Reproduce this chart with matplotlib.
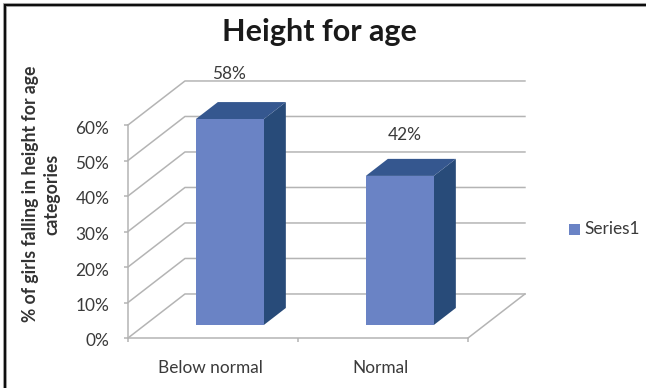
import matplotlib
matplotlib.use("Agg")
import matplotlib.pyplot as plt
from matplotlib.lines import Line2D
from matplotlib.patches import Polygon, Rectangle
from matplotlib.transforms import ScaledTranslation

plt.rcParams["font.family"] = ["Lato", "DejaVu Sans"]

categories = ["Below normal", "Normal"]
values = [58, 42]
value_labels = ["58%", "42%"]
y_ticks = [0, 10, 20, 30, 40, 50, 60]
y_tick_labels = ["0%", "10%", "20%", "30%", "40%", "50%", "60%"]
series_name = "Series1"
title = "Height for age"
y_label = "% of girls falling in height for age\ncategories"

W, H = 646, 388
FRONT = "#6a83c5"
TOP = "#35578f"
SIDE = "#284b79"
GRID = "#b4b4b4"
TEXT = "#3a3a3a"
FS = 12.4
LABEL_OFFSETS = [(-1, 45), (5, 41)]

# Oblique projection of the 3-D box: depth 0 is the front edge, 1 the back wall
DX = 0.335   # category units at full depth
DY = 12.4    # percentage points at full depth
BAR_W = 0.40
D0, D1 = 0.295, 0.682


def proj(x, y, d):
    return x + DX * d, y + DY * d


fig = plt.figure(figsize=(W / 100, H / 100), dpi=100, facecolor="white")
ax = fig.add_axes([128 / W, (H - 338) / H, 340 / W, 213 / H])
ax.set_xlim(0, len(categories))
ax.set_ylim(0, y_ticks[-1])
ax.patch.set_visible(False)
for name in ("top", "right"):
    ax.spines[name].set_visible(False)
for name in ("left", "bottom"):
    ax.spines[name].set_color(GRID)
    ax.spines[name].set_linewidth(1.1)

ax.set_yticks(y_ticks, y_tick_labels, fontsize=FS, color=TEXT)
ax.set_xticks(range(len(categories) + 1), [""] * (len(categories) + 1))
ax.set_xticks([i + 0.5 for i in range(len(categories))], categories, minor=True,
              fontsize=FS, color=TEXT)
ax.tick_params(axis="both", which="major", color=GRID, width=1.1, length=3)
ax.tick_params(axis="y", pad=10.5)
ax.tick_params(axis="x", which="minor", length=0, pad=16)

# Nudge the tick labels a little off their default anchors
nudge_y = ScaledTranslation(0, -2 / 100, fig.dpi_scale_trans)
for lab in ax.get_yticklabels():
    lab.set_transform(lab.get_transform() + nudge_y)
nudge_x = ScaledTranslation(-2.5 / 100, 0, fig.dpi_scale_trans)
for lab in ax.get_xticklabels(minor=True):
    lab.set_transform(lab.get_transform() + nudge_x)

# Walls: gridlines across the back plus their diagonals on the side wall
for v in y_ticks:
    ax.plot(*zip(proj(0, v, 0), proj(0, v, 1), proj(len(categories), v, 1)),
            color=GRID, lw=1.1, clip_on=False, zorder=1)
ax.plot(*zip(proj(len(categories), 0, 0), proj(len(categories), 0, 1)),
        color=GRID, lw=1.1, clip_on=False, zorder=1)

# Bars as three visible faces
for i, v in enumerate(values):
    x0 = i + 0.5 - BAR_W / 2
    x1 = x0 + BAR_W
    front = [proj(x0, 0, D0), proj(x1, 0, D0), proj(x1, v, D0), proj(x0, v, D0)]
    side = [proj(x1, 0, D0), proj(x1, 0, D1), proj(x1, v, D1), proj(x1, v, D0)]
    top = [proj(x0, v, D0), proj(x1, v, D0), proj(x1, v, D1), proj(x0, v, D1)]
    ax.add_patch(Polygon(side, fc=SIDE, ec="none", zorder=3, clip_on=False))
    ax.add_patch(Polygon(top, fc=TOP, ec="none", zorder=3, clip_on=False))
    ax.add_patch(Polygon(front, fc=FRONT, ec="none", zorder=4, clip_on=False))
    lx, ly = proj(i + 0.5, v, D0)
    ax.annotate(value_labels[i], (lx, ly), xytext=LABEL_OFFSETS[i], textcoords="offset pixels",
                ha="center", va="center", fontsize=FS, color=TEXT, annotation_clip=False)

# Title, axis label and legend sit in figure pixels
fig.text(319 / W, 1 - 32 / H, title, ha="center", va="center", fontsize=22,
         fontweight="bold", color="#1a1a1a")
fig.text(41.5 / W, 1 - 194 / H, y_label, rotation=90, ha="center", va="center",
         multialignment="center", fontsize=12.7, fontweight="bold", color="#333333",
         linespacing=1.3)
fig.add_artist(Rectangle((569 / W, 1 - 235 / H), 11 / W, 11 / H, fc=FRONT, ec="none",
                         transform=fig.transFigure))
fig.text(584 / W, 1 - 229 / H, series_name, ha="left", va="center", fontsize=FS, color=TEXT)

# Frame runs along the top and left edges only, dark with a soft grey rim
frame_x = [5 / W, 5 / W, 1]
frame_y = [0, 1 - 5 / H, 1 - 5 / H]
fig.add_artist(Line2D(frame_x, frame_y, color="#b0b0b0", lw=2.9, solid_joinstyle="miter",
                      transform=fig.transFigure))
fig.add_artist(Line2D(frame_x, frame_y, color="#0d0d0d", lw=1.6, solid_joinstyle="miter",
                      transform=fig.transFigure))

fig.savefig("out.png", dpi=100)
